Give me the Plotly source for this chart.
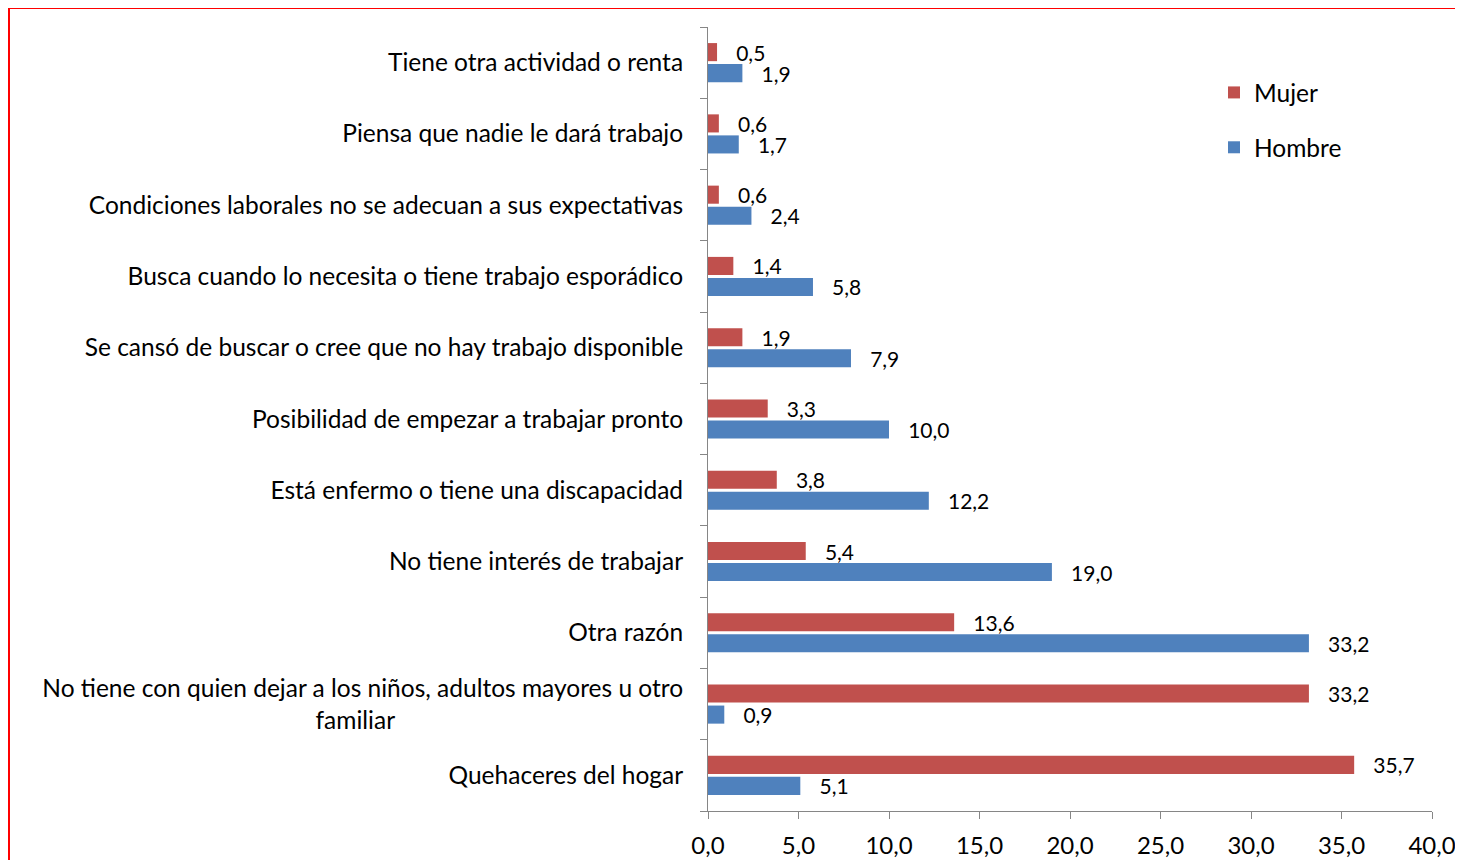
import plotly.graph_objects as go

# categories listed bottom -> top (plotly category axis draws first at bottom)
razones = [
    "Quehaceres del hogar",
    "No tiene con quien dejar a los niños, adultos mayores u otro",
    "Otra razón",
    "No tiene interés de trabajar",
    "Está enfermo o tiene una discapacidad",
    "Posibilidad de empezar a trabajar pronto",
    "Se cansó de buscar o cree que no hay trabajo disponible",
    "Busca cuando lo necesita o tiene trabajo esporádico",
    "Condiciones laborales no se adecuan a sus expectativas",
    "Piensa que nadie le dará trabajo",
    "Tiene otra actividad o renta",
]
mujer = [35.7, 33.2, 13.6, 5.4, 3.8, 3.3, 1.9, 1.4, 0.6, 0.6, 0.5]
hombre = [5.1, 0.9, 33.2, 19.0, 12.2, 10.0, 7.9, 5.8, 2.4, 1.7, 1.9]
x_ticks = [0, 5, 10, 15, 20, 25, 30, 35, 40]

NB = "\u00a0"
tick_text = list(razones)
tick_text[1] = razones[1] + "<br>familiar" + NB * 46

FONT = "Lato"
FS = 24.5
LBL = 21
pad = NB * 3

fig = go.Figure()
fig.add_trace(go.Bar(
    y=razones, x=hombre, name="Hombre", orientation="h",
    marker=dict(color="#4F81BD", line=dict(width=0)),
    texttemplate=pad + "%{x:.1f}", textposition="outside",
    textfont=dict(family=FONT, size=LBL, color="black"),
    constraintext="none", cliponaxis=False,
    legendgroup="h", legendrank=2,
))
fig.add_trace(go.Bar(
    y=razones, x=mujer, name="Mujer", orientation="h",
    marker=dict(color="#C0504D", line=dict(width=0)),
    texttemplate=pad + "%{x:.1f}", textposition="outside",
    textfont=dict(family=FONT, size=LBL, color="black"),
    constraintext="none", cliponaxis=False,
    legendgroup="m", legendrank=1,
))

# page body has an 8px margin, so shift everything up/left by 8px
OFF = 8
W, H = 1463, 860
L, T = 708 - OFF, 27 - OFF
pw, ph = 1432 - 708, 811 - 27
R, B = W - L - pw, H - T - ph

def px_x(p):
    return (p - OFF - L) / pw

def px_y(p):
    return (H - B - (p - OFF)) / ph

fig.update_layout(
    width=W, height=H,
    margin=dict(l=L, r=R, t=T, b=B, autoexpand=False),
    paper_bgcolor="white", plot_bgcolor="white",
    separators=",.",
    barmode="group", bargap=0.41, bargroupgap=0.14,
    font=dict(family=FONT, size=FS, color="black"),
    legend=dict(
        x=px_x(1214), y=px_y(70), xanchor="left", yanchor="top",
        traceorder="grouped", tracegroupgap=20,
        font=dict(family=FONT, size=FS, color="black"),
        bgcolor="rgba(0,0,0,0)", itemwidth=30,
    ),
    xaxis=dict(
        range=[0, 40], tickvals=x_ticks, tickformat=".1f",
        showgrid=False, zeroline=False, automargin=False,
        showline=True, linecolor="#868686", linewidth=1,
        ticks="outside", ticklen=7, tickcolor="#868686",
        ticklabelstandoff=6,
        tickfont=dict(family=FONT, size=24, color="black"),
    ),
    yaxis=dict(
        type="category", categoryorder="array", categoryarray=razones,
        tickvals=razones, ticktext=tick_text,
        showgrid=False, zeroline=False, automargin=False,
        showline=True, linecolor="#868686", linewidth=1,
        ticks="outside", ticklen=7, tickcolor="#868686",
        tickson="boundaries", ticklabelstandoff=19,
        tickfont=dict(family=FONT, size=FS, color="black"),
    ),
    shapes=[dict(
        type="rect", xref="paper", yref="paper",
        x0=px_x(9), x1=px_x(1480), y0=px_y(880), y1=px_y(8),
        line=dict(color="red", width=2), fillcolor="rgba(0,0,0,0)",
        layer="below",
    )],
)

fig.write_html("out.html")
